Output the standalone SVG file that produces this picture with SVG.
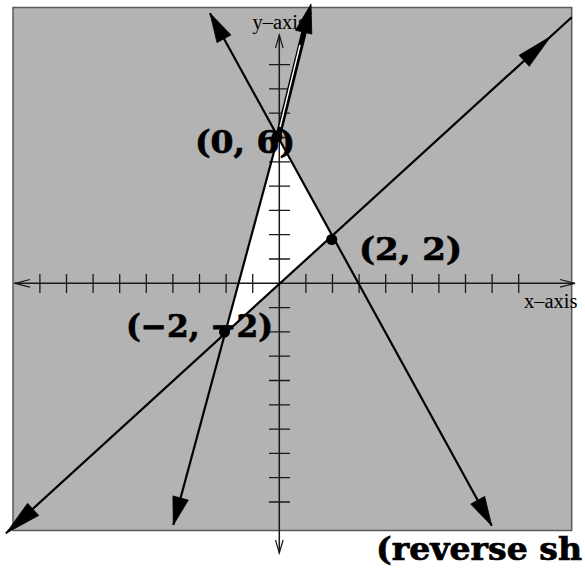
<svg xmlns="http://www.w3.org/2000/svg" width="585" height="571" viewBox="0 0 585 571">
<style>
.axis{stroke:#1a1a1a;stroke-width:1.5;fill:none}
.tick{stroke:#1a1a1a;stroke-width:1.3;fill:none}
.open{stroke:#1a1a1a;stroke-width:1.2;fill:none}
.line{stroke:#000;stroke-width:2.2;fill:none}
.head{fill:#000;stroke:#000;stroke-width:0.8;stroke-linejoin:miter}
.dot{fill:#000}
.lbl{font-family:"DejaVu Serif","Liberation Serif",serif;font-weight:bold;font-size:31px;fill:#000;stroke:#000;stroke-width:0.7}
.ax{font-family:"Liberation Serif","Times New Roman",serif;font-size:20.5px;fill:#000}
</style>
<rect x="13" y="7.5" width="558.7" height="523" fill="#b3b3b3" stroke="#5a5a5a" stroke-width="1.5"/>
<polygon id="feasible-region" points="277.5,137 332.3,235.5 225.5,332.5" fill="#fff"/>
<g id="axes">
<line class="axis" x1="14" y1="283.3" x2="575" y2="283.3"/>
<line class="axis" x1="279.3" y1="35" x2="279.3" y2="553"/>
<polyline class="open" points="30,279.5 15,283.3 30,287.1"/>
<polyline class="open" points="560,279.5 575,283.3 560,287.1"/>
<polyline class="open" points="275.5,48 279.3,35 283.1,48"/>
<polyline class="open" points="275.5,540 279.3,553 283.1,540"/>
<path class="tick" d="M39.9,274V293M66.5,274V293M93.1,274V293M119.7,274V293M146.3,274V293M172.9,274V293M199.5,274V293M226.1,274V293M252.7,274V293M305.9,274V293M332.5,274V293M359.1,274V293M385.7,274V293M412.3,274V293M438.9,274V293M465.5,274V293M492.1,274V293M518.7,274V293"/>
<path class="tick" d="M269,64.6H290M269,88.9H290M269,113.2H290M269,137.5H290M269,161.8H290M269,186.1H290M269,210.4H290M269,234.7H290M269,259H290M269,307.6H290M269,331.9H290M269,356.2H290M269,380.5H290M269,404.8H290M269,429.1H290M269,453.4H290M269,477.7H290M269,502H290"/>
<text class="ax" x="252.5" y="29">y–axis</text>
<text class="ax" x="524" y="308">x–axis</text>
</g>
<g id="connectors">
<line class="line" x1="6" y1="533.3" x2="571.7" y2="17.3"/>
<polygon class="head" points="550.7,36.5 529.2,66.3 519.1,55.3"/>
<polygon class="head" points="6,533.3 38.7,515.4 27.6,503.3"/>
<line class="line" x1="210" y1="13.3" x2="491.7" y2="525.7"/>
<polygon class="head" points="210,13.3 231,34.9 217,42.6"/>
<polygon class="head" points="491.7,525.7 484.7,496.4 470.7,504.1"/>
<line class="line" x1="173.3" y1="525" x2="278" y2="137"/>
<polygon class="head" points="173.3,525 188.3,500.1 172.9,495.9"/>
<line stroke="#000" stroke-width="5.5" x1="278" y1="137" x2="309" y2="12"/>
<line stroke="#fff" stroke-width="1.4" x1="280" y1="127" x2="300" y2="45"/>
<polygon class="head" points="311,4 311.8,34.1 295.5,30.3"/>
</g>
<g id="point-0-6">
<circle class="dot" cx="277" cy="137" r="5.5"/>
<text class="lbl" x="195" y="153" textLength="100" lengthAdjust="spacingAndGlyphs">(0, 6)</text>
</g>
<g id="point-2-2">
<circle class="dot" cx="331.7" cy="239.5" r="5.5"/>
<text class="lbl" x="359" y="260" textLength="103" lengthAdjust="spacingAndGlyphs">(2, 2)</text>
</g>
<g id="point-m2-m2">
<circle class="dot" cx="224.5" cy="332" r="5.5"/>
<text class="lbl" x="126" y="337" textLength="147" lengthAdjust="spacingAndGlyphs">(−2, −2)</text>
</g>
<g id="caption">
<text class="lbl" x="376" y="560" textLength="206" lengthAdjust="spacingAndGlyphs">(reverse sh</text>
</g>
</svg>
